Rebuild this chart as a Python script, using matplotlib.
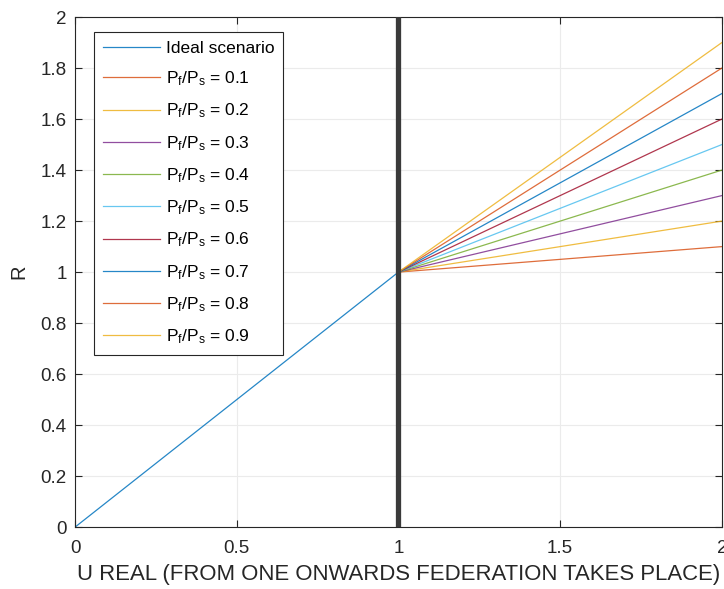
import matplotlib

matplotlib.use("Agg")
import matplotlib.pyplot as plt
import numpy as np

plt.rcParams["font.family"] = ["Liberation Sans", "DejaVu Sans"]
plt.rcParams["mathtext.default"] = "regular"

# ideal scenario: R = U up to federation point
u_ideal = [0.0, 1.0]
r_ideal = [0.0, 1.0]
# after federation, R grows with slope Pf/Ps
u_fed = [1.0, 2.0]
ratios = [0.1, 0.2, 0.3, 0.4, 0.5, 0.6, 0.7, 0.8, 0.9]
r_end = [1.1, 1.2, 1.3, 1.4, 1.5, 1.6, 1.7, 1.8, 1.9]

COLORS = ["#0072BD", "#D95319", "#EDB120", "#7E2F8E", "#77AC30",
          "#4DBEEE", "#A2142F"]
INK = "#262626"

fig = plt.figure(figsize=(7.24, 5.89), dpi=100, facecolor="white")
ax = fig.add_axes([0.1036, 0.105, 0.8934, 0.866])

ax.plot(u_ideal, r_ideal, color=COLORS[0], lw=0.9, alpha=0.85,
        label="Ideal scenario")
for i, (p, r) in enumerate(zip(ratios, r_end)):
    ax.plot(u_fed, [1.0, r], color=COLORS[(i + 1) % len(COLORS)], lw=0.9,
            alpha=0.85, label=f"P$_f$/P$_s$ = {p:.1f}")
ax.axvline(1.0, color="#3a3a3a", lw=3.8, zorder=5)

ax.set_xlim(0, 2)
ax.set_ylim(0, 2)
ax.set_xticks([0, 0.5, 1, 1.5, 2])
ax.set_xticklabels(["0", "0.5", "1", "1.5", "2"])
ax.set_yticks(np.arange(0, 2.01, 0.2))
ax.set_yticklabels(["0", "0.2", "0.4", "0.6", "0.8", "1", "1.2", "1.4",
                    "1.6", "1.8", "2"])
ax.grid(True, color="#ebebeb", lw=0.8)
ax.set_axisbelow(True)
ax.tick_params(direction="in", length=5, labelsize=13.5, color=INK,
               top=True, right=True, labelcolor=INK)
ax.tick_params(axis="x", pad=9)
ax.tick_params(axis="y", pad=6)
for s in ax.spines.values():
    s.set_color(INK)
    s.set_linewidth(0.8)
ax.set_xlabel("U REAL (FROM ONE ONWARDS FEDERATION TAKES PLACE)",
              fontsize=15.9, color=INK, labelpad=5)
ax.set_ylabel("R", fontsize=14.5, color=INK, labelpad=9)

leg = ax.legend(loc="upper left", bbox_to_anchor=(94 / 724, 1 - 32 / 589),
                bbox_transform=fig.transFigure, borderaxespad=0,
                fontsize=12.5, frameon=True, fancybox=False, edgecolor=INK,
                framealpha=1, handlelength=3.3, handletextpad=0.35,
                labelspacing=0.78, borderpad=0.5)
leg.get_frame().set_linewidth(0.8)

fig.savefig("out.png", dpi=100, facecolor="white")
